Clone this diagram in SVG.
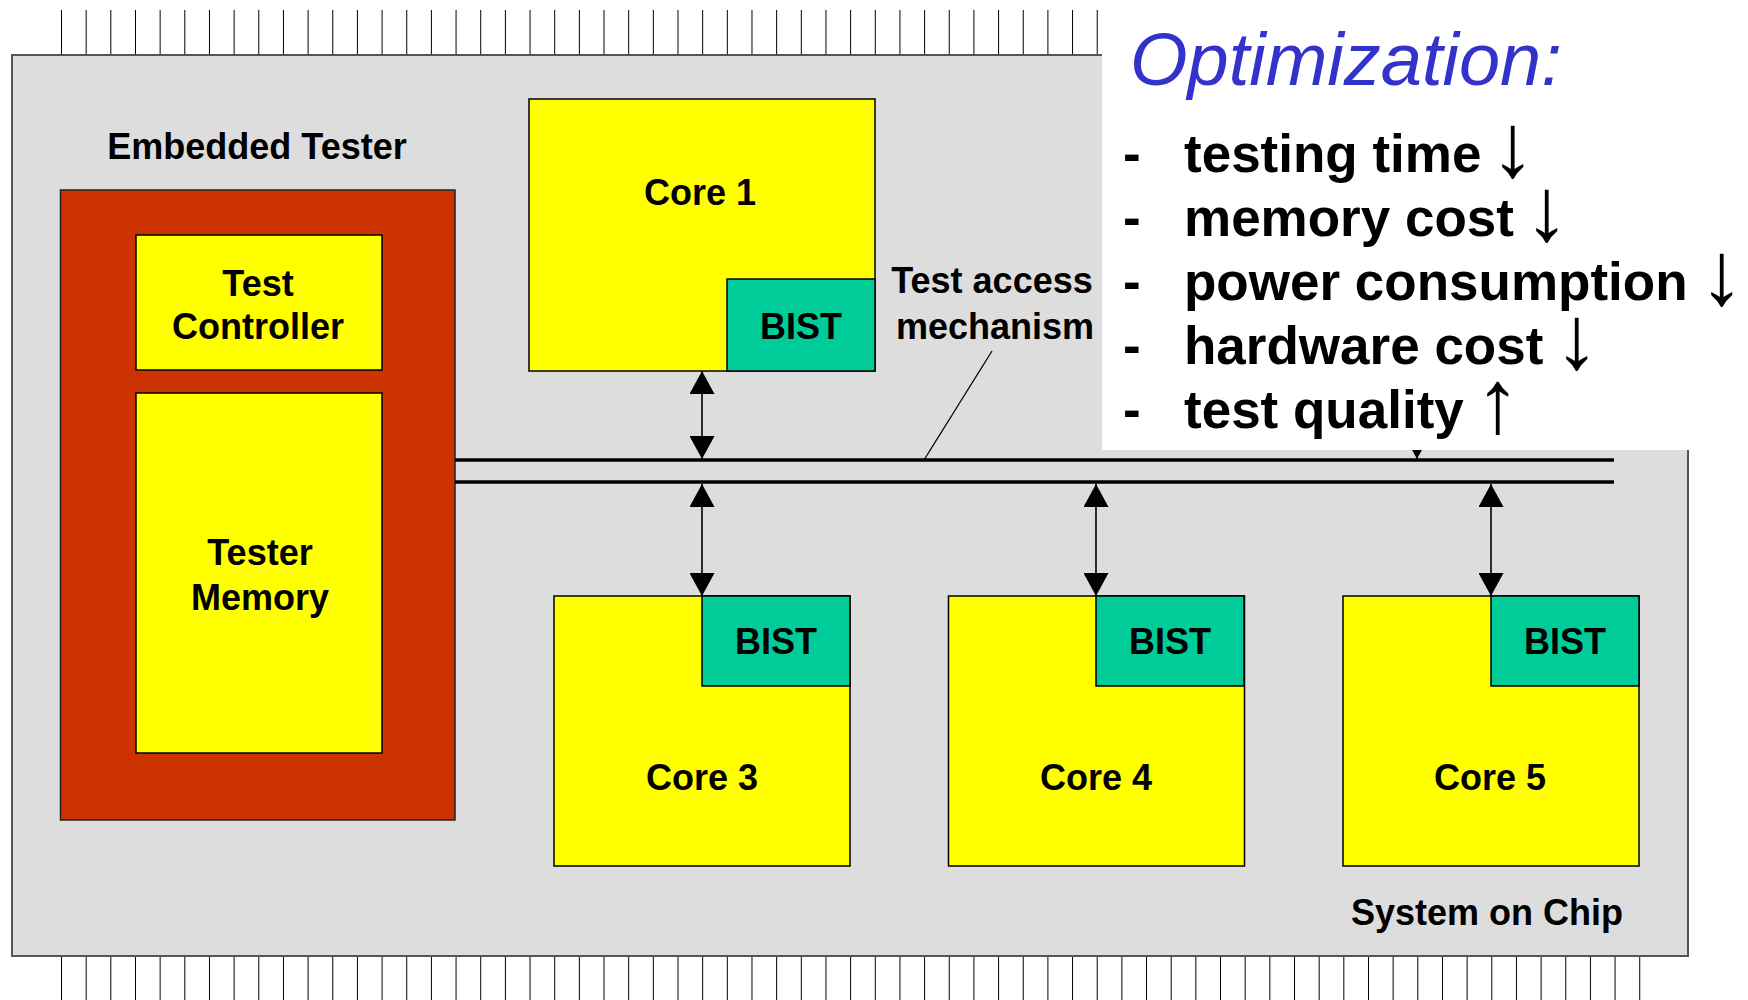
<svg xmlns="http://www.w3.org/2000/svg" width="1748" height="1000" viewBox="0 0 1748 1000">
<style>
.lbl{font-family:"Liberation Sans",Arial,sans-serif;font-weight:bold;font-size:36px;fill:#000;text-anchor:middle}
.core{fill:#FFFF00;stroke:#000;stroke-width:1.5}
.bist{fill:#00CC99;stroke:#000;stroke-width:1.5}
.bus{stroke:#000;stroke-width:3.5;fill:none}
.arw{stroke:#000;stroke-width:1.6;fill:none;marker-start:url(#ah);marker-end:url(#ah)}
.opt{font-family:"Liberation Sans",Arial,sans-serif;font-weight:bold;font-size:53px;fill:#000}
.sym{font-family:"Liberation Sans",Arial,sans-serif;font-weight:normal;font-size:90px;fill:#000}
</style>
<defs>
<marker id="ah" viewBox="0 0 23 25" refX="23" refY="12.5" markerWidth="23" markerHeight="25" markerUnits="userSpaceOnUse" orient="auto-start-reverse">
<path d="M0,0 L23,12.5 L0,25 z" fill="#000"/>
</marker>
<pattern id="pins" x="61" y="0" width="24.66" height="1000" patternUnits="userSpaceOnUse">
<line x1="0.5" y1="0" x2="0.5" y2="1000" stroke="#000" stroke-width="1"/>
</pattern>
</defs>
<rect width="1748" height="1000" fill="#fff"/>
<g id="pins-top"><rect x="60" y="10" width="1582" height="45" fill="url(#pins)"/></g>
<g id="pins-bottom"><rect x="60" y="956" width="1582" height="44" fill="url(#pins)"/></g>
<g id="chip">
<rect x="12" y="55" width="1676" height="901" fill="#DDDDDD" stroke="#555" stroke-width="2"/>
<text class="lbl" x="1487" y="925">System on Chip</text>
</g>
<g id="embedded-tester">
<text class="lbl" x="257" y="159">Embedded Tester</text>
<rect x="60.5" y="190" width="394.5" height="630" fill="#CC3300" stroke="#222" stroke-width="1.5"/>
</g>
<g id="test-controller">
<rect x="136" y="235" width="246" height="135" class="core"/>
<text class="lbl" x="258" y="296">Test</text>
<text class="lbl" x="258" y="339">Controller</text>
</g>
<g id="tester-memory">
<rect x="136" y="393" width="246" height="360" class="core"/>
<text class="lbl" x="260" y="565">Tester</text>
<text class="lbl" x="260" y="610">Memory</text>
</g>
<g id="connectors">
<line class="bus" x1="455" y1="460" x2="1614" y2="460"/>
<line class="bus" x1="455" y1="482" x2="1614" y2="482"/>
<line class="arw" x1="702" y1="371" x2="702" y2="459"/>
<line class="arw" x1="1417" y1="371" x2="1417" y2="459"/>
<line class="arw" x1="702" y1="484" x2="702" y2="596"/>
<line class="arw" x1="1096" y1="484" x2="1096" y2="596"/>
<line class="arw" x1="1491" y1="484" x2="1491" y2="596"/>
<line x1="992" y1="351" x2="924" y2="460" stroke="#000" stroke-width="1.3"/>
</g>
<g id="core1">
<rect x="529" y="99" width="346" height="272" class="core"/>
<rect x="727" y="279" width="148" height="92" class="bist"/>
<text class="lbl" x="700" y="205">Core 1</text>
<text class="lbl" x="801" y="339">BIST</text>
</g>
<g id="tam-label">
<text class="lbl" x="992" y="293">Test access</text>
<text class="lbl" x="995" y="339">mechanism</text>
</g>
<g id="core3">
<rect x="554" y="596" width="296" height="270" class="core"/>
<rect x="702" y="596" width="148" height="90" class="bist"/>
<text class="lbl" x="776" y="654">BIST</text>
<text class="lbl" x="702" y="790">Core 3</text>
</g>
<g id="core4">
<rect x="948.5" y="596" width="296" height="270" class="core"/>
<rect x="1096" y="596" width="148" height="90" class="bist"/>
<text class="lbl" x="1170" y="654">BIST</text>
<text class="lbl" x="1096" y="790">Core 4</text>
</g>
<g id="core5">
<rect x="1343" y="596" width="296" height="270" class="core"/>
<rect x="1491" y="596" width="148" height="90" class="bist"/>
<text class="lbl" x="1565" y="654">BIST</text>
<text class="lbl" x="1490" y="790">Core 5</text>
</g>
<g id="optimization">
<rect x="1102" y="0" width="646" height="450" fill="#fff"/>
<text x="1130" y="85" font-family="Liberation Sans, Arial, sans-serif" font-style="italic" font-size="74" fill="#3333CC">Optimization:</text>
<text class="opt" y="172"><tspan x="1123">-</tspan><tspan x="1184">testing time</tspan><tspan x="1490" y="176" class="sym">↓</tspan></text>
<text class="opt" y="236"><tspan x="1123">-</tspan><tspan x="1184">memory cost</tspan><tspan x="1524" y="240" class="sym">↓</tspan></text>
<text class="opt" y="300"><tspan x="1123">-</tspan><tspan x="1184">power consumption</tspan><tspan x="1699" y="304" class="sym">↓</tspan></text>
<text class="opt" y="364"><tspan x="1123">-</tspan><tspan x="1184">hardware cost</tspan><tspan x="1554" y="368" class="sym">↓</tspan></text>
<text class="opt" y="428"><tspan x="1123">-</tspan><tspan x="1184">test quality</tspan><tspan x="1475" y="432" class="sym">↑</tspan></text>
</g>
</svg>
